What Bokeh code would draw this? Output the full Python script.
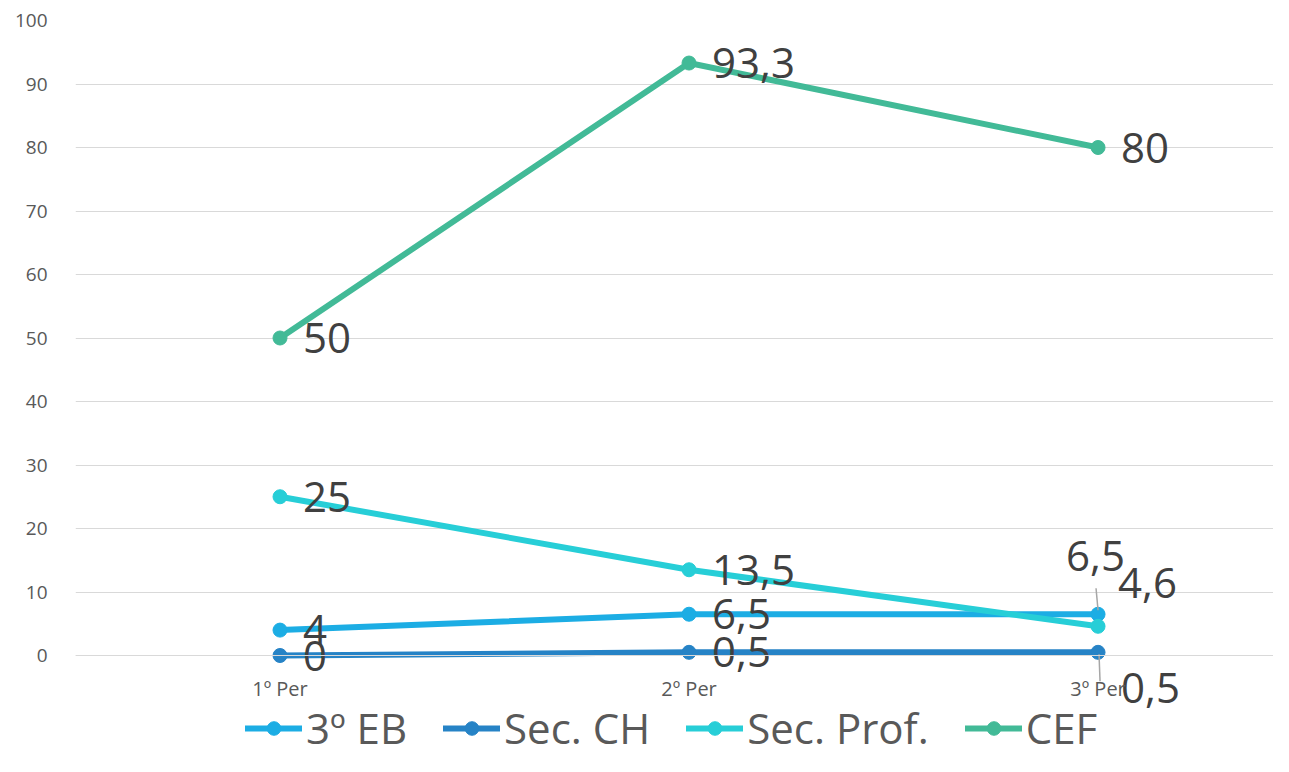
from bokeh.plotting import figure
from bokeh.models import Range1d, FixedTicker, Legend, LegendItem, ColumnDataSource
from bokeh.core.properties import value
from bokeh.embed import file_html
from bokeh.resources import INLINE

# ---- data ----
categories = ["1º Per", "2º Per", "3º Per"]
series_names = ["3º EB", "Sec. CH", "Sec. Prof.", "CEF"]
eb3 = [4, 6.5, 6.5]
sec_ch = [0, 0.5, 0.5]
sec_prof = [25, 13.5, 4.6]
cef = [50, 93.3, 80]
y_ticks = [0, 10, 20, 30, 40, 50, 60, 70, 80, 90, 100]

# ---- style / layout ----
colors = ["#1CADE4", "#2683C6", "#27CED7", "#42BA97"]
FONT = "Open Sans"
W, H = 1273, 756
LEFT, TOP = 75, 20
ZERO_PX = 655            # pixel row of value 0
px_y = (ZERO_PX - TOP) / 100.0
X0, X1 = -0.5, 2.429
Y1 = 100
Y0 = -(H - ZERO_PX) / px_y   # frame extends to the bottom so labels/legend are not clipped
frame_w = W - LEFT
px_x = frame_w / (X1 - X0)

# label offsets in pixels (dx right, dy down) for individual labels
default_off = (23, 0)
special_off = {("3º EB", 2): (-32, -58), ("Sec. Prof.", 2): (20, -43), ("Sec. CH", 2): (23, 36)}
# leader lines in pixels relative to the point: (dx0, dy0, dx1, dy1), dy positive = down
leaders = {("3º EB", 2): (-2, -26, 0, -4), ("Sec. CH", 2): (1, 2, 2, 29)}

p = figure(width=W, height=H, output_backend="svg", toolbar_location=None,
           x_range=Range1d(X0, X1), y_range=Range1d(Y0, Y1),
           min_border_left=LEFT, min_border_top=TOP, min_border_right=0,
           min_border_bottom=0)
p.outline_line_color = None
p.background_fill_color = "white"
p.border_fill_color = "white"

# axes
p.xaxis.fixed_location = 0
p.xaxis.ticker = FixedTicker(ticks=list(range(len(categories))))
p.xaxis.major_label_overrides = {i: c for i, c in enumerate(categories)}
p.xaxis.axis_line_color = "#D9D9D9"
p.xaxis.major_tick_line_color = None
p.xaxis.minor_tick_line_color = None
p.xaxis.major_label_standoff = 13
p.xaxis.major_label_text_font_size = "20px"
p.yaxis.ticker = FixedTicker(ticks=y_ticks)
p.yaxis.axis_line_color = None
p.yaxis.major_tick_line_color = None
p.yaxis.minor_tick_line_color = None
p.yaxis.major_label_standoff = 22
p.yaxis.major_label_text_font_size = "19px"
for ax in (p.xaxis, p.yaxis):
    ax.major_label_text_font = FONT
    ax.major_label_text_color = "#595959"
p.xgrid.grid_line_color = None
p.ygrid.grid_line_color = "#D9D9D9"
p.ygrid.grid_line_width = 1

xs = list(range(len(categories)))
all_series = [eb3, sec_ch, sec_prof, cef]
items = []
lab_x, lab_y, lab_t, lab_dx, lab_dy = [], [], [], [], []
for name, vals, col in zip(series_names, all_series, colors):
    l = p.line(xs, vals, line_color=col, line_width=6, line_join="round", line_cap="round")
    s = p.scatter(xs, vals, size=14, fill_color=col, line_color=col)
    items.append(LegendItem(label=name, renderers=[l, s]))
    for i, v in enumerate(vals):
        dx, dy = special_off.get((name, i), default_off)
        lab_x.append(i)
        lab_y.append(v)
        lab_t.append(f"{v:g}".replace(".", ","))
        lab_dx.append(dx)
        lab_dy.append(dy)

# leader lines
for name, vals in zip(series_names, all_series):
    for i, v in enumerate(vals):
        if (name, i) in leaders:
            a, b, c, d = leaders[(name, i)]
            p.segment(x0=i + a / px_x, y0=v - b / px_y, x1=i + c / px_x, y1=v - d / px_y,
                      line_color="#A6A6A6", line_width=1.5)

src = ColumnDataSource(dict(x=lab_x, y=lab_y, t=lab_t, dx=lab_dx, dy=lab_dy))
p.text(x="x", y="y", text="t", x_offset="dx", y_offset="dy", source=src,
       text_font=value(FONT), text_font_size="42px", text_color="#404040",
       text_align="left", text_baseline="middle")

legend = Legend(items=items, orientation="horizontal", location=(170, 0),
                label_text_font=FONT, label_text_font_size="42px", label_text_color="#595959",
                glyph_width=57, glyph_height=34, label_standoff=4, spacing=36,
                padding=0, margin=0, border_line_alpha=0, background_fill_alpha=0)
p.add_layout(legend, "center")

open("out.html", "w").write(file_html(p, INLINE))
